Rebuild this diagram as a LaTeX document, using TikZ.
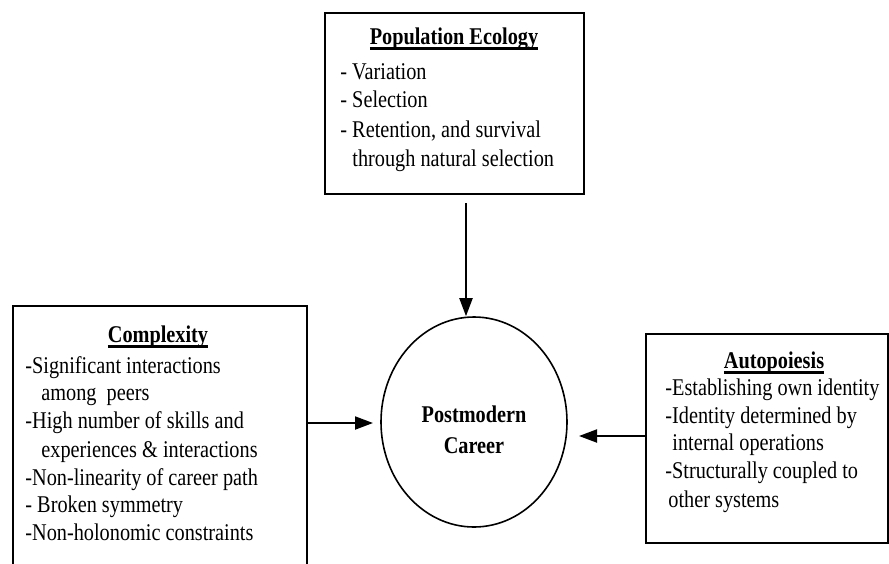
\documentclass[tikz,border=0pt]{standalone}
\usepackage{fontspec}
\setmainfont{Liberation Serif}[FakeStretch=0.845]
\usetikzlibrary{arrows.meta,shapes.geometric}
\tikzset{
  boxshape/.style={draw, line width=1.1pt, inner sep=0pt, anchor=north west},
  txt/.style={anchor=base west, inner sep=0pt, font=\fontsize{12}{14}\selectfont},
  ttl/.style={anchor=base, inner sep=0pt, font=\fontsize{12}{14}\selectfont\bfseries},
  conn/.style={line width=1pt, -{Triangle[length=9pt,width=6.5pt]}},
}
\newcommand{\ulttl}[1]{\setbox0\hbox{#1}\rlap{\vrule height -1.6pt depth 2.8pt width \wd0}\box0}
\begin{document}
\begin{tikzpicture}[x=0.5pt,y=-0.5pt]
\useasboundingbox (0,0) rectangle (889,563);
\clip (0,0) rectangle (889,563);
% top box
\node[boxshape, minimum width=129.5pt, minimum height=90.5pt] (pe) at (324,12) {};
\node[ttl] (pet) at (454,44) {\ulttl{Population Ecology}};
\node[txt] (pe1) at (340,79) {- Variation};
\node[txt] (pe2) at (340,107) {- Selection};
\node[txt] (pe3) at (340,137) {- Retention, and survival};
\node[txt] (pe4) at (352,166) {through natural selection};
% left box
\node[boxshape, minimum width=147pt, minimum height=140pt] (cx) at (12,305) {};
\node[ttl] (cxt) at (158,342) {\ulttl{Complexity}};
\node[txt] (cx1) at (25,373) {-Significant interactions};
\node[txt] (cx2) at (41,400) {among~~peers};
\node[txt] (cx3) at (25,428) {-High number of skills and};
\node[txt] (cx4) at (41,457) {experiences \& interactions};
\node[txt] (cx5) at (25,485) {-Non-linearity of career path};
\node[txt] (cx6) at (25,512) {- Broken symmetry};
\node[txt] (cx7) at (25,540) {-Non-holonomic constraints};
% right box
\node[boxshape, minimum width=121pt, minimum height=104.5pt] (ap) at (645,333) {};
\node[ttl] (apt) at (774,368) {\ulttl{Autopoiesis}};
\node[txt] (ap1) at (665,395) {-Establishing own identity};
\node[txt] (ap2) at (665,423) {-Identity determined by};
\node[txt] (ap3) at (672,450) {internal operations};
\node[txt] (ap4) at (665,478) {-Structurally coupled to};
\node[txt] (ap5) at (668,507) {other systems};
% circle
\node[draw, ellipse, line width=0.8pt, minimum width=93pt, minimum height=105pt, inner sep=0pt] (pc) at (474,422) {};
\node[ttl] (pc1) at (474,422) {Postmodern};
\node[ttl] (pc2) at (474,453) {Career};
% connectors
\coordinate (a1) at (466,203);
\draw[conn] (a1) -- (pc.north -| a1);
\coordinate (a2) at (306,423);
\draw[conn] (cx.east |- a2) -- (373,423) coordinate (a2e);
\draw[conn] (ap.west |- 0,436) -- (579,436) coordinate (a3e);
\end{tikzpicture}
\end{document}
